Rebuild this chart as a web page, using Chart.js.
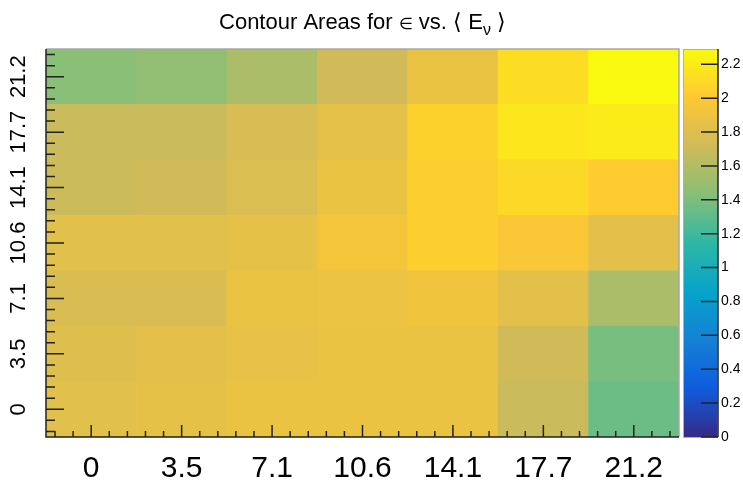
<!DOCTYPE html>
<html>
<head>
<meta charset="utf-8">
<script src="https://cdn.jsdelivr.net/npm/chart.js@4.4.0/dist/chart.umd.min.js"></script>
<style>
    html, body { margin: 0; padding: 0; background: #fff; }
</style>
</head>
<body>
<canvas id="myHeatChart" width="743" height="483"></canvas>
<script>
// bin labels for <E_nu> (x) and epsilon (y)
xLabels = ['0', '3.5', '7.1', '10.6', '14.1', '17.7', '21.2'];
yLabels = ['0', '3.5', '7.1', '10.6', '14.1', '17.7', '21.2'];

// contour area in each cell, one array per y bin, columns follow xLabels
area_y0   = [1.82, 1.85, 1.88, 1.88, 1.88, 1.69, 1.34];
area_y3_5 = [1.80, 1.83, 1.86, 1.88, 1.88, 1.72, 1.38];
area_y7_1 = [1.77, 1.77, 1.88, 1.89, 1.92, 1.83, 1.57];
area_y10_6 = [1.82, 1.82, 1.85, 1.94, 2.04, 1.97, 1.83];
area_y14_1 = [1.70, 1.72, 1.78, 1.88, 2.04, 2.10, 2.02];
area_y17_7 = [1.69, 1.69, 1.76, 1.84, 2.05, 2.18, 2.20];
area_y21_2 = [1.44, 1.47, 1.57, 1.72, 1.88, 2.12, 2.28];
areaRows = [area_y0, area_y3_5, area_y7_1, area_y10_6, area_y14_1, area_y17_7, area_y21_2];

// colour axis
zMin = 0;
zMax = 2.29;
zTicks = [0, 0.2, 0.4, 0.6, 0.8, 1, 1.2, 1.4, 1.6, 1.8, 2, 2.2];

// ROOT "bird" palette
birdStops = [0.0, 0.125, 0.25, 0.375, 0.5, 0.625, 0.75, 0.875, 1.0];
birdRed   = [0.2082, 0.0592, 0.0780, 0.0232, 0.1802, 0.5301, 0.8186, 0.9956, 0.9764];
birdGreen = [0.1664, 0.3599, 0.5041, 0.6419, 0.7178, 0.7492, 0.7328, 0.7862, 0.9832];
birdBlue  = [0.5293, 0.8684, 0.8385, 0.7914, 0.6425, 0.4662, 0.3499, 0.1968, 0.0539];

function BirdColour(t){
    t = Math.max(0, Math.min(1, t));
    var i = 0;
    while (i < birdStops.length - 2 && t > birdStops[i + 1]) i++;
    var f = (t - birdStops[i]) / (birdStops[i + 1] - birdStops[i]);
    var r = birdRed[i] + f * (birdRed[i + 1] - birdRed[i]);
    var g = birdGreen[i] + f * (birdGreen[i + 1] - birdGreen[i]);
    var b = birdBlue[i] + f * (birdBlue[i + 1] - birdBlue[i]);
    return 'rgb(' + Math.round(r * 255) + ',' + Math.round(g * 255) + ',' + Math.round(b * 255) + ')';
}

function ZColour(v){
    return BirdColour((v - zMin) / (zMax - zMin));
}

var datasets = [];
for (var r = 0; r < areaRows.length; r++){
    datasets.push({
        label: yLabels[r],
        data: areaRows[r].map(function(){ return 1; }),   // every bin is one unit high
        backgroundColor: areaRows[r].map(ZColour),
        borderWidth: 0,
        barPercentage: 1,
        categoryPercentage: 1
    });
}

// frame, inward ticks, rotated y labels, colour bar and title
var decorations = {
    id: 'decorations',
    beforeDraw: function(chart){
        var ctx = chart.ctx;
        ctx.save();
        ctx.fillStyle = '#fff';
        ctx.fillRect(0, 0, chart.width, chart.height);
        ctx.restore();
    },
    afterDatasetsDraw: function(chart){
        var ctx = chart.ctx;
        var area = chart.chartArea;
        var x = chart.scales.x, y = chart.scales.y, z = chart.scales.z;
        ctx.save();

        // frame
        ctx.strokeStyle = '#a8a8a8';
        ctx.lineWidth = 1.5;
        ctx.beginPath();
        ctx.moveTo(area.left, area.top);
        ctx.lineTo(area.right, area.top);
        ctx.lineTo(area.right, area.bottom);
        ctx.stroke();
        ctx.strokeStyle = '#222';
        ctx.beginPath();
        ctx.moveTo(area.left, area.top);
        ctx.lineTo(area.left, area.bottom);
        ctx.lineTo(area.right, area.bottom);
        ctx.stroke();

        // x ticks (5 divisions per bin, major at the bin centre)
        var dx = x.getPixelForValue(1) - x.getPixelForValue(0);
        ctx.lineWidth = 1.5;
        ctx.beginPath();
        for (var k = -2; k <= 5 * (xLabels.length - 1) + 2; k++){
            var px = x.getPixelForValue(0) + k * dx / 5;
            if (px < area.left || px > area.right) continue;
            var len = (k % 5 === 0) ? 12 : 6;
            ctx.moveTo(px, area.bottom);
            ctx.lineTo(px, area.bottom - len);
        }
        // y ticks
        var dy = y.getPixelForValue(0) - y.getPixelForValue(1);
        for (var k = -2; k <= 5 * (yLabels.length - 1) + 2; k++){
            var py = y.getPixelForValue(0.5) - k * dy / 5;
            if (py < area.top || py > area.bottom) continue;
            var len = (k % 5 === 0) ? 18 : 9;
            ctx.moveTo(area.left, py);
            ctx.lineTo(area.left + len, py);
        }
        ctx.stroke();

        // y labels, rotated
        ctx.fillStyle = '#000';
        ctx.font = '22px "Liberation Sans", Arial, sans-serif';
        ctx.textAlign = 'center';
        ctx.textBaseline = 'middle';
        for (var i = 0; i < yLabels.length; i++){
            ctx.save();
            ctx.translate(19, y.getPixelForValue(i + 0.5));
            ctx.rotate(-Math.PI / 2);
            ctx.fillText(yLabels[i], 0, 0);
            ctx.restore();
        }

        // colour bar
        var barL = area.right + 4, barR = area.right + 39;
        var zTop = z.getPixelForValue(zMax), zBot = z.getPixelForValue(zMin);
        var grad = ctx.createLinearGradient(0, zBot, 0, zTop);
        for (var s = 0; s <= 40; s++){
            grad.addColorStop(s / 40, BirdColour(s / 40));
        }
        ctx.fillStyle = grad;
        ctx.fillRect(barL, zTop, barR - barL, zBot - zTop);
        ctx.strokeStyle = '#b0b0b0';
        ctx.lineWidth = 1;
        ctx.strokeRect(barL + 0.5, zTop + 0.5, barR - barL - 1, zBot - zTop);
        ctx.strokeStyle = '#222';
        ctx.lineWidth = 1.5;
        ctx.beginPath();
        ctx.moveTo(barR, zTop);
        ctx.lineTo(barR, zBot);
        for (var i = 0; i < zTicks.length; i++){
            var pz = z.getPixelForValue(zTicks[i]);
            ctx.moveTo(barR, pz);
            ctx.lineTo(barR - 17, pz);
        }
        ctx.stroke();

        // title with subscript nu
        var cx = (area.left + area.right) / 2, base = 29;
        var f1 = '22px "Liberation Sans", Arial, sans-serif';
        var f2 = '16px "Liberation Sans", Arial, sans-serif';
        var parts = [
            {t: 'Contour Areas for ', f: f1, dy: 0},
            {t: '\u2208', f: f2, dy: 0},
            {t: ' vs. \u27e8 E', f: f1, dy: 0},
            {t: '\u03bd', f: f2, dy: 6},
            {t: ' \u27e9', f: f1, dy: 0}
        ];
        var w = 0;
        parts.forEach(function(p){ ctx.font = p.f; p.w = ctx.measureText(p.t).width; w += p.w; });
        var tx = cx - w / 2;
        ctx.fillStyle = '#000';
        ctx.textAlign = 'left';
        ctx.textBaseline = 'alphabetic';
        parts.forEach(function(p){ ctx.font = p.f; ctx.fillText(p.t, tx, base + p.dy); tx += p.w; });

        ctx.restore();
    }
};

var ctx = document.getElementById('myHeatChart').getContext('2d');
var myChart = new Chart(ctx, {
    type: 'bar',
    data: {
        labels: xLabels,
        datasets: datasets
    },
    options: {
        responsive: false,
        animation: false,
        devicePixelRatio: 1,
        layout: {
            padding: { top: 49, left: 0, right: 0, bottom: 0 }
        },
        plugins: {
            legend: { display: false },
            tooltip: { enabled: false },
            title: { display: false }
        },
        scales: {
            x: {
                type: 'category',
                stacked: true,
                offset: true,
                grid: { display: false },
                border: { display: false },
                ticks: {
                    color: '#000',
                    maxRotation: 0,
                    padding: 6,
                    font: { family: '"Liberation Sans", Arial, sans-serif', size: 30 }
                },
                afterFit: function(scale){ scale.height = 46; }
            },
            y: {
                type: 'linear',
                stacked: true,
                min: 0,
                max: 7,
                grid: { display: false },
                border: { display: false },
                ticks: { display: false },
                afterFit: function(scale){ scale.width = 46; }
            },
            z: {
                type: 'linear',
                position: 'right',
                min: zMin,
                max: zMax,
                // invisible tick marks keep the labels clear of the colour bar
                grid: { display: true, drawOnChartArea: false, drawTicks: true, tickLength: 40, color: 'rgba(0,0,0,0)' },
                border: { display: false },
                afterBuildTicks: function(scale){
                    scale.ticks = zTicks.map(function(v){ return { value: v }; });
                },
                ticks: {
                    color: '#000',
                    padding: 2,
                    font: { family: '"Liberation Sans", Arial, sans-serif', size: 14 },
                    callback: function(v){ return String(Math.round(v * 10) / 10); }
                },
                afterFit: function(scale){ scale.width = 64; }
            }
        }
    },
    plugins: [decorations]
});
</script>
</body>
</html>
